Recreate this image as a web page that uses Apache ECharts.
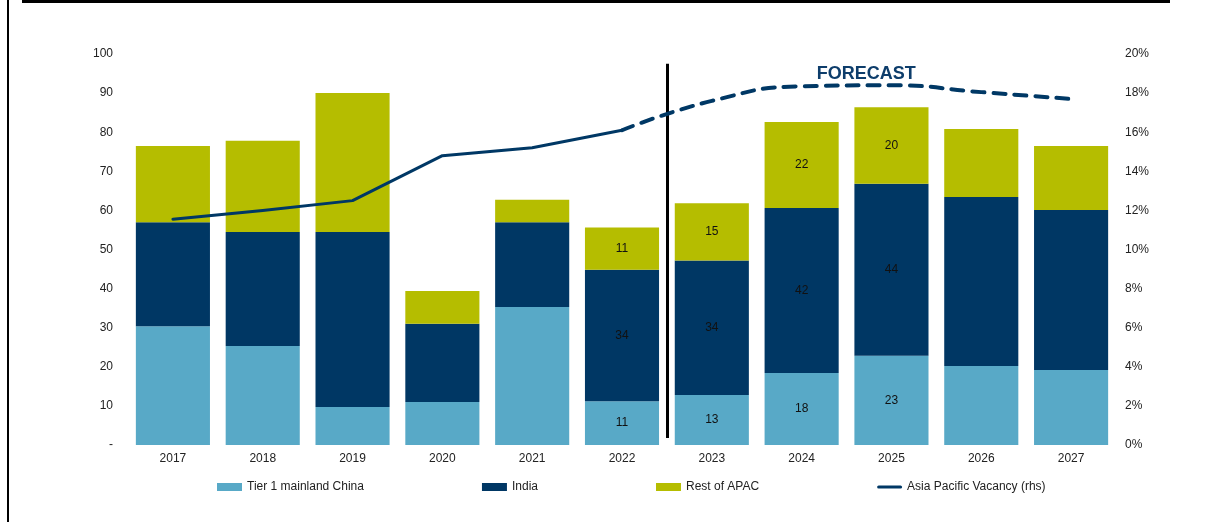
<!DOCTYPE html>
<html>
<head>
<meta charset="utf-8">
<script src="https://cdn.jsdelivr.net/npm/echarts@6/dist/echarts.min.js"></script>
<style>
html,body{margin:0;padding:0;background:#fff;}
#chart{width:1231px;height:522px;}
</style>
</head>
<body>
<div id="chart"></div>
<script>
const years = ['2017','2018','2019','2020','2021','2022','2023','2024','2025','2026','2027'];
const tier1China = [30.4, 25.3, 9.7, 11.0, 35.3, 11.2, 12.8, 18.4, 22.8, 20.2, 19.2];
const india      = [26.6, 29.2, 44.8, 20.0, 21.7, 33.6, 34.4, 42.2, 44.0, 43.2, 40.9];
const restOfApac = [19.5, 23.3, 35.5, 8.4, 5.7, 10.8, 14.6, 22.0, 19.6, 17.4, 16.4];
const vacancyActual   = [11.55, 12.0, 12.5, 14.8, 15.2, 16.1, null, null, null, null, null];
const vacancyForecast = [null, null, null, null, null, 16.1, 17.6, 18.35, 18.4, 18.05, 17.7];
const labelledIdx = [5, 6, 7, 8];
const forecastBoundary = 5.5;
const forecastText = 'FORECAST';

const FONT = '"Liberation Sans", Arial, sans-serif';
const C_CHINA = '#58a9c7', C_INDIA = '#003764', C_REST = '#b5bd00', C_LINE = '#003865';

function barData(arr) {
  return arr.map((v, i) => ({
    value: v,
    label: { show: labelledIdx.indexOf(i) >= 0 }
  }));
}
function barSeries(name, arr, color) {
  return {
    name: name, type: 'bar', stack: 'total', barCategoryGap: '17.5%',
    itemStyle: { color: color },
    label: { position: 'inside', color: '#111', fontSize: 12, fontFamily: FONT,
             formatter: p => Math.round(p.value) },
    data: barData(arr)
  };
}

const chart = echarts.init(document.getElementById('chart'));
chart.setOption({
  animation: false,
  backgroundColor: '#fff',
  textStyle: { fontFamily: FONT },
  graphic: [
    { type: 'rect', shape: { x: 22, y: 0, width: 1148, height: 3 }, style: { fill: '#000' }, silent: true },
    { type: 'rect', shape: { x: 7, y: 0, width: 2, height: 522 }, style: { fill: '#000' }, silent: true }
  ],
  grid: { left: 128, right: 115, top: 54, bottom: 77, containLabel: false },
  legend: {
    left: 212, top: 476, itemGap: 118, itemWidth: 25, itemHeight: 8,
    textStyle: { fontSize: 12, color: '#222', fontFamily: FONT },
    data: [
      { name: 'Tier 1 mainland China', icon: 'rect' },
      { name: 'India', icon: 'rect' },
      { name: 'Rest of APAC', icon: 'rect' },
      { name: 'Asia Pacific Vacancy (rhs)', icon: 'path://M2,0 H30 A2,2 0 0 1 30,4 H2 A2,2 0 0 1 2,0 Z' }
    ]
  },
  xAxis: [
    { type: 'category', data: years,
      axisLine: { show: false }, axisTick: { show: false },
      axisLabel: { color: '#222', fontSize: 12, margin: 8, fontFamily: FONT } },
    { type: 'value', min: -0.5, max: 10.5, show: false }
  ],
  yAxis: [
    { type: 'value', min: 0, max: 100, interval: 10,
      splitLine: { show: false }, axisLine: { show: false }, axisTick: { show: false },
      axisLabel: { color: '#222', fontSize: 12, margin: 15, fontFamily: FONT,
                   formatter: v => v === 0 ? '-' : v } },
    { type: 'value', min: 0, max: 20, interval: 2,
      splitLine: { show: false }, axisLine: { show: false }, axisTick: { show: false },
      axisLabel: { color: '#222', fontSize: 12, margin: 9, fontFamily: FONT,
                   formatter: '{value}%' } }
  ],
  series: [
    barSeries('Tier 1 mainland China', tier1China, C_CHINA),
    barSeries('India', india, C_INDIA),
    barSeries('Rest of APAC', restOfApac, C_REST),
    { name: 'Asia Pacific Vacancy (rhs)', type: 'line', yAxisIndex: 1, symbol: 'none',
      smooth: false, lineStyle: { color: C_LINE, width: 3, cap: 'round', join: 'round' }, itemStyle: { color: C_LINE },
      data: vacancyActual, z: 5 },
    { name: 'Asia Pacific Vacancy (rhs)', type: 'line', yAxisIndex: 1, symbol: 'none',
      smooth: true, lineStyle: { color: C_LINE, width: 4, type: [12, 9], cap: 'round' }, itemStyle: { color: C_LINE },
      data: vacancyForecast, z: 5 },
    { name: 'markers', type: 'line', xAxisIndex: 1, yAxisIndex: 0, data: [], symbol: 'none',
      markLine: { silent: true, symbol: 'none', label: { show: false },
        lineStyle: { color: '#000', width: 3, type: 'solid' },
        data: [[{ coord: [forecastBoundary, 97.5] }, { coord: [forecastBoundary, 1.8] }]] },
      markPoint: { silent: true, symbol: 'circle', symbolSize: 0,
        label: { show: true, position: 'inside', formatter: forecastText,
                 color: '#0d3d6b', fontSize: 18, fontWeight: 'bold', fontFamily: FONT },
        data: [{ coord: [7.72, 94.9] }] } }
  ]
});
</script>
</body>
</html>
